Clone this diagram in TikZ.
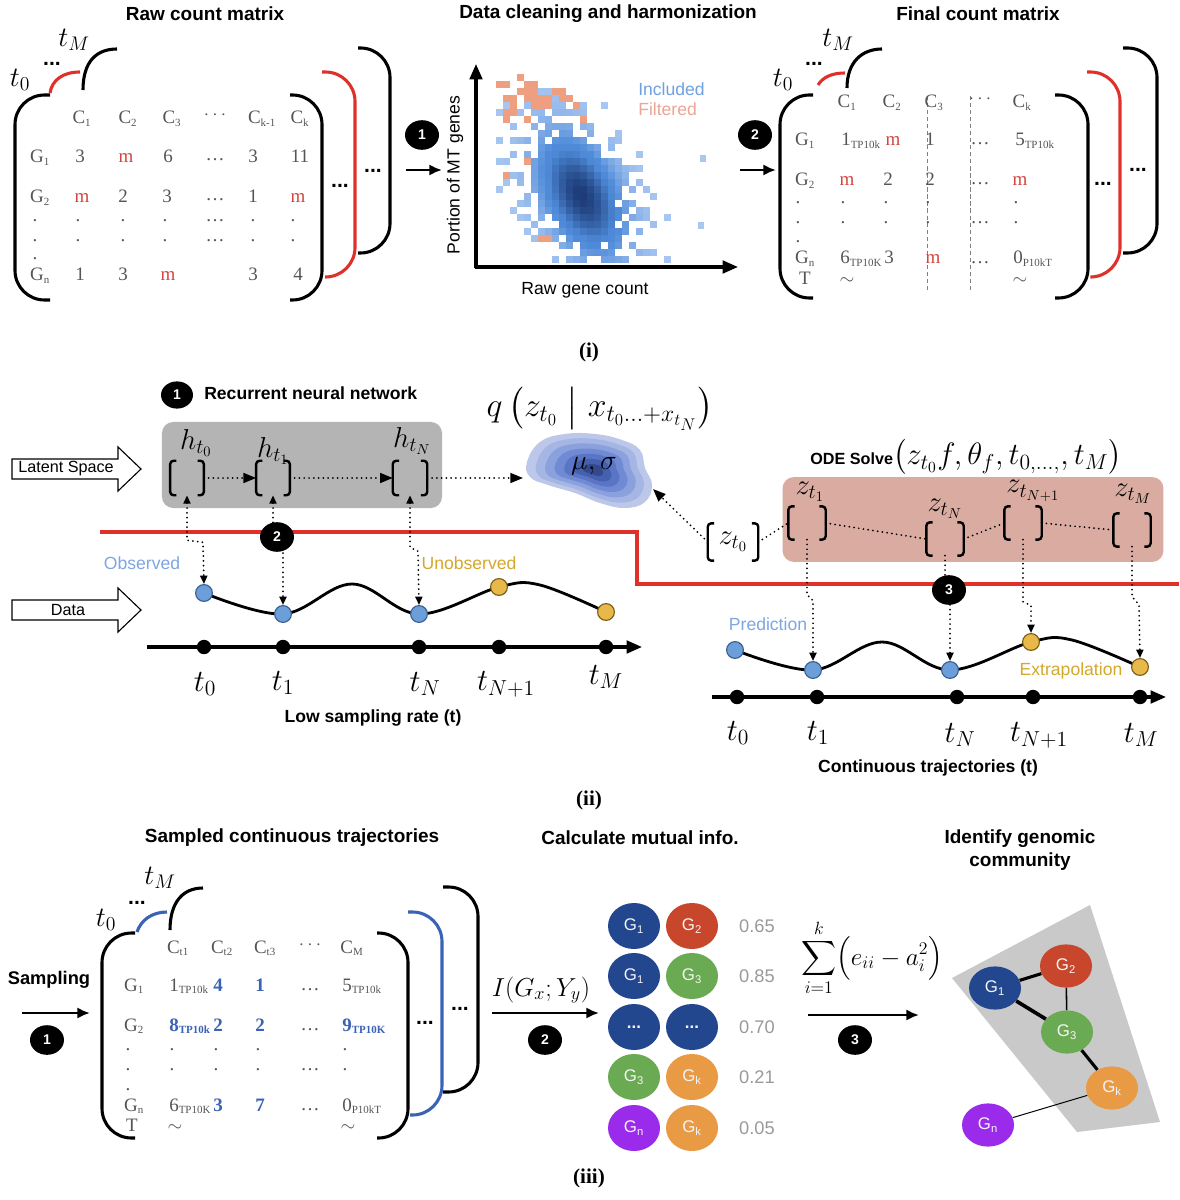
\RequirePackage{fix-cm}
\documentclass[tikz,border=0pt]{standalone}
\usepackage{exscale}
\usepackage{fontspec}
\setmainfont{Liberation Serif}
\setsansfont{Liberation Sans}
\usetikzlibrary{arrows.meta,shapes.geometric}
\definecolor{mredc}{HTML}{D2463F}
\definecolor{bred}{HTML}{E0302A}
\definecolor{mgray}{HTML}{555555}
\definecolor{mbluec}{HTML}{3A62B5}
\definecolor{incl}{HTML}{6FA0E0}
\definecolor{filt}{HTML}{EBA596}
\definecolor{lightb}{HTML}{A9C7F2}
\definecolor{midb}{HTML}{4E8AD8}
\definecolor{darkb}{HTML}{1D3C78}
\definecolor{orng}{HTML}{EE9F7F}
\definecolor{ptblue}{HTML}{6C9FDA}
\definecolor{ptblueo}{HTML}{3B5E90}
\definecolor{ptyel}{HTML}{E8B94A}
\definecolor{ptyelo}{HTML}{7A5C14}
\definecolor{obsblue}{HTML}{7EA6E2}
\definecolor{unobs}{HTML}{D4A82C}
\definecolor{rnnbox}{HTML}{B4B4B4}
\definecolor{odebox}{HTML}{D9ABA1}
\definecolor{gblue}{HTML}{22478F}
\definecolor{gred}{HTML}{C8462B}
\definecolor{ggreen}{HTML}{6AAA52}
\definecolor{gorange}{HTML}{E99A45}
\definecolor{gpurple}{HTML}{9A2BEA}
\definecolor{polyg}{HTML}{C9C9C9}
\definecolor{valgray}{HTML}{9A9A9A}
\definecolor{bl1}{HTML}{BCC7E9}
\definecolor{bl2}{HTML}{A5B6E5}
\definecolor{bl3}{HTML}{8BA1DE}
\definecolor{bl4}{HTML}{708BD4}
\definecolor{bl5}{HTML}{5A74C6}
\definecolor{bl6}{HTML}{4560AE}
\definecolor{bl7}{HTML}{34488C}
\newcommand\sbs[1]{\textsubscript{\fontsize{7.8}{9}\selectfont #1}}
\newcommand\drawbrk[1]{\draw[line width=1.7pt, rounded corners=2.5pt]
  ([xshift=4.5pt]#1.north west) -- (#1.north west) -- (#1.south west) -- ([xshift=4.5pt]#1.south west)
  ([xshift=-4.5pt]#1.north east) -- (#1.north east) -- (#1.south east) -- ([xshift=-4.5pt]#1.south east);}
\tikzset{
  titl/.style={font=\sffamily\bfseries\fontsize{13.5}{16.5}\selectfont, inner sep=0pt},
  lbl/.style={font=\sffamily\fontsize{11.5}{14}\selectfont, inner sep=0pt},
  secl/.style={font=\bfseries\fontsize{15}{18}\selectfont, inner sep=0pt},
  mtxt/.style={font=\fontsize{13.5}{16}\selectfont, text=mgray, inner sep=0pt, anchor=base},
  mtxtw/.style={mtxt, anchor=base west},
  mtr/.style={mtxt, text=mredc},
  mtb/.style={mtxt, text=mbluec, font=\bfseries\fontsize{13.5}{16}\selectfont},
  mtbw/.style={mtb, anchor=base west},
  brkl/.style={line width=2.2pt},
  rc/.style={rounded corners=21pt},
  bdots/.style={font=\sffamily\bfseries\fontsize{15}{18}\selectfont, inner sep=0pt},
  numc/.style={ellipse, fill=black, text=white, font=\sffamily\bfseries\fontsize{10}{12}\selectfont, minimum width=0.85cm, minimum height=0.74cm, inner sep=0pt},
  bigarr/.style={line width=2pt, -{Latex[length=9pt,width=8pt]}},
  dotl/.style={line width=1.4pt, dash pattern=on 0pt off 3.4pt, line cap=round},
  hhead/.style={-{Triangle[length=9pt,width=7pt]}},
  vhead/.style={-{Triangle[length=6pt,width=5pt]}},
  vhead2/.style={{Triangle[length=6pt,width=5pt]}-{Triangle[length=6pt,width=5pt]}},
  dpb/.style={circle, fill=ptblue, draw=ptblueo, line width=0.8pt, minimum size=0.42cm, inner sep=0pt},
  dpy/.style={circle, fill=ptyel, draw=ptyelo, line width=0.8pt, minimum size=0.42cm, inner sep=0pt},
  tdot/.style={circle, fill=black, minimum size=0.36cm, inner sep=0pt},
  tlab/.style={font=\fontsize{22}{26}\selectfont, inner sep=0pt},
  hlab/.style={font=\fontsize{20.5}{24}\selectfont, inner sep=0pt},
  fmath/.style={font=\fontsize{20}{24}\selectfont, inner sep=0pt},
  gcirc/.style={ellipse, minimum width=1.3cm, minimum height=1.15cm, inner sep=0pt, text=white!92!gray, font=\sffamily\fontsize{12}{14}\selectfont},
  ncirc/.style={ellipse, minimum width=1.3cm, minimum height=1.08cm, inner sep=0pt, text=white!92!gray, font=\sffamily\fontsize{12}{14}\selectfont},
  vlab/.style={font=\sffamily\fontsize{13}{15}\selectfont, text=valgray, inner sep=0pt},
  axisl/.style={line width=2.2pt, -{Triangle[length=11pt,width=9pt]}}
}
\begin{document}
\begin{tikzpicture}[x=0.025cm,y=-0.025cm]
\useasboundingbox (0,0) rectangle (1179,1200);
\fill[white] (0,0) rectangle (1179,1200);

%================ (i) ================
\node[titl] (ti1) at (205,14) {Raw count matrix};
\node[titl] (ti2) at (608,14) {Data cleaning and harmonization};
\node[titl] (ti3) at (978,14) {Final count matrix};

% raw count matrix
\node[tlab, font=\fontsize{20}{24}\selectfont] (rtm) at (74,40) {$t_M$};
\node[tlab, font=\fontsize{20}{24}\selectfont] (rt0) at (20,80) {$t_0$};
\node[bdots] (rdd) at (52,64) {...};
\draw[brkl] (117,49) .. controls (96,49) and (83,62) .. (83,90);
\draw[brkl, rc] (358,48) -- (390,48) -- (390,253) -- (358,253);
\draw[brkl, bred] (50,93) .. controls (52,80) and (63,72) .. (80,72);
\draw[brkl, bred, rc] (322,72) -- (355,72) -- (355,277) -- (325,277);
\draw[brkl, rc] (50,95) -- (15,95) -- (15,300) -- (50,300);
\draw[brkl, rc] (290,95) -- (322,95) -- (322,300) -- (290,300);
\node[bdots] (rd1) at (340,186) {...};
\node[bdots] (rd2) at (373,171) {...};
\foreach \x/\y/\t/\s [count=\k] in {
 82/124/{C\sbs{1}}/mtxt, 128/124/{C\sbs{2}}/mtxt, 172/124/{C\sbs{3}}/mtxt,
 215/120/{$\cdots$}/mtxt, 262/124/{C\sbs{k-1}}/mtxt, 300/124/{C\sbs{k}}/mtxt,
 40/163/{G\sbs{1}}/mtxt, 80/163/3/mtxt, 126/163/m/mtr, 168/163/6/mtxt, 215/161/{\dots}/mtxt, 253/163/3/mtxt, 300/163/11/mtxt,
 40/203/{G\sbs{2}}/mtxt, 82/203/m/mtr, 123/203/2/mtxt, 167/203/3/mtxt, 215/201/{\dots}/mtxt, 253/203/1/mtxt, 298/203/m/mtr,
 35/222/./mtxt, 78/222/./mtxt, 123/222/./mtxt, 165/222/./mtxt, 215/222/{\dots}/mtxt, 253/222/./mtxt, 293/222/./mtxt,
 35/242/./mtxt, 78/242/./mtxt, 123/242/./mtxt, 165/242/./mtxt, 215/242/{\dots}/mtxt, 253/242/./mtxt, 293/242/./mtxt,
 35/260/./mtxt,
 40/281/{G\sbs{n}}/mtxt, 80/281/1/mtxt, 123/281/3/mtxt, 168/281/m/mtr, 253/281/3/mtxt, 298/281/4/mtxt}
 {\node[\s] (ra\k) at (\x,\y) {\t};}

% arrow 1
\node[numc] (ci1) at (422,135) {1};
\coordinate (a1s) at (406,170); \coordinate (a1e) at (442,170);
\draw[bigarr] (a1s) -- (a1e);

% scatter heatmap
\pgfmathsetseed{7}
\foreach \i in {0,...,33}{
  \foreach \j in {0,...,26}{
    \pgfmathsetmacro\cx{489+7*\i}
    \pgfmathsetmacro\cy{74+7*\j}
    \pgfmathsetmacro\du{(\cx-578)*0.45+(\cy-192)*0.893}
    \pgfmathsetmacro\dv{(\cy-192)*0.45-(\cx-578)*0.893}
    \pgfmathsetmacro\dens{exp(-0.5*min((\du/60)^2+(\dv/34)^2,25))}
    \pgfmathsetmacro\denso{exp(-0.5*min(((\cx-527)/26)^2+((\cy-96)/15)^2,25))}
    \pgfmathsetmacro\ra{rnd}
    \pgfmathsetmacro\rb{rnd}
    \pgfmathtruncatemacro\isb{(\ra<1.5*\dens-0.1)?1:0}
    \pgfmathtruncatemacro\iso{((\rb<0.95*\denso-0.03)||((\dv>20)&&(\dv<60)&&(\du>-70)&&(\du<80)&&(\rb<0.13)))?1:0}
    \ifnum\isb=1
      \pgfmathsetmacro\pc{min(100,100*\dens^2)}
      \ifdim\pc pt<50pt
        \pgfmathsetmacro\pcb{min(100,2.4*\pc)}
        \fill[midb!\pcb!lightb] (\cx,\cy) rectangle ++(7,7);
      \else
        \pgfmathsetmacro\pcb{2*(\pc-50)}
        \fill[darkb!\pcb!midb] (\cx,\cy) rectangle ++(7,7);
      \fi
    \else
      \ifnum\iso=1
        \fill[orng] (\cx,\cy) rectangle ++(7,7);
      \fi
    \fi
  }
}
\fill[lightb] (700,155) rectangle ++(6,7);
\fill[lightb] (698,222) rectangle ++(6,7);
\coordinate (ax0) at (476,267); \coordinate (axy) at (476,64); \coordinate (axx) at (738,267);
\draw[axisl] ([yshift=-1pt]ax0) -- (axy);
\draw[axisl] ([xshift=-1pt]ax0) -- (axx);
\node[lbl, rotate=90, font=\sffamily\fontsize{12.5}{15}\selectfont] (ylab) at (455,175) {Portion of MT genes};
\node[lbl, font=\sffamily\fontsize{12.5}{15}\selectfont] (xlab) at (585,290) {Raw gene count};
\node[lbl, text=incl, font=\sffamily\fontsize{12.5}{15}\selectfont, anchor=west] (inc) at (638,89) {Included};
\node[lbl, text=filt, font=\sffamily\fontsize{12.5}{15}\selectfont, anchor=west] (fil) at (638,109) {Filtered};

% arrow 2
\node[numc] (ci2) at (755,135) {2};
\coordinate (a2s) at (740,170); \coordinate (a2e) at (776,170);
\draw[bigarr] (a2s) -- (a2e);

% final count matrix
\node[tlab, font=\fontsize{20}{24}\selectfont] (ftm) at (838,40) {$t_M$};
\node[tlab, font=\fontsize{20}{24}\selectfont] (ft0) at (783,80) {$t_0$};
\node[bdots] (fdd) at (814,64) {...};
\draw[brkl] (882,49) .. controls (862,49) and (847,62) .. (847,88);
\draw[brkl, rc] (1123,48) -- (1157,48) -- (1157,253) -- (1123,253);
\draw[brkl, bred] (818,85) .. controls (823,77) and (832,73) .. (845,73);
\draw[brkl, bred, rc] (1087,72) -- (1120,72) -- (1120,277) -- (1092,277);
\draw[brkl, rc] (813,95) -- (780,95) -- (780,298) -- (813,298);
\draw[brkl, rc] (1055,95) -- (1088,95) -- (1088,298) -- (1055,298);
\draw[gray, densely dashed, line width=0.6pt] (927,96) -- (927,292);
\draw[gray, densely dashed, line width=0.6pt] (970,96) -- (970,292);
\node[bdots] (fd1) at (1103,184) {...};
\node[bdots] (fd2) at (1138,170) {...};
\foreach \x/\y/\t/\s [count=\k] in {
 847/108/{C\sbs{1}}/mtxt, 892/108/{C\sbs{2}}/mtxt, 934/108/{C\sbs{3}}/mtxt,
 980/104/{$\cdots$}/mtxt, 1022/108/{C\sbs{k}}/mtxt,
 805/146/{G\sbs{1}}/mtxt, 841/146/{1\sbs{TP10k}}/mtxtw, 893/146/m/mtr, 930/146/1/mtxt, 980/145/{\dots}/mtxt, 1015/146/{5\sbs{TP10k}}/mtxtw,
 805/186/{G\sbs{2}}/mtxt, 847/186/m/mtr, 888/186/2/mtxt, 930/186/2/mtxt, 980/185/{\dots}/mtxt, 1020/186/m/mtr,
 798/204/./mtxt, 843/204/./mtxt, 886/204/./mtxt, 928/204/./mtxt, 1016/204/./mtxt,
 798/224/./mtxt, 843/224/./mtxt, 886/224/./mtxt, 928/224/./mtxt, 980/224/{\dots}/mtxt, 1016/224/./mtxt,
 798/243/./mtxt,
 805/264/{G\sbs{n}}/mtxt, 840/264/{6\sbs{TP10K}}/mtxtw, 889/264/3/mtxt, 933/264/m/mtr, 980/264/{\dots}/mtxt, 1013/264/{0\sbs{P10kT}}/mtxtw,
 805/285/T/mtxt, 847/285/{$\sim$}/mtxt, 1020/285/{$\sim$}/mtxt}
 {\node[\s] (fa\k) at (\x,\y) {\t};}

\node[secl] (sec1) at (589,352) {(i)};

%================ (ii) ================
\node[fill=rnnbox, rounded corners=8pt, minimum width=7cm, minimum height=2.15cm, inner sep=0pt] (rnn) at (302,465) {};
\node[fill=odebox, rounded corners=8pt, minimum width=9.52cm, minimum height=2.12cm, inner sep=0pt] (odeb) at (973,519.5) {};
\draw[bred, line width=2.2pt] (100,532) -- (637,532) -- (637,584) -- (1179,584);

\node[numc, minimum width=0.8cm, minimum height=0.68cm] (ci3) at (177,395) {1};
\node[font=\sffamily\bfseries\fontsize{12.5}{15}\selectfont, anchor=west, inner sep=0pt] (rnnl) at (204,393) {Recurrent neural network};

% latent / data block arrows
\draw[line width=0.8pt] (12,459) -- (118,459) -- (118,447) -- (141,469) -- (118,491) -- (118,479) -- (12,479) -- cycle;
\node[lbl] (lsp) at (66,469) {Latent Space};
\draw[line width=0.8pt] (12,600) -- (118,600) -- (118,588) -- (141,610) -- (118,632) -- (118,620) -- (12,620) -- cycle;
\node[lbl] (dat) at (68,610) {Data};

% blob
\foreach \s/\c in {1/bl1, 0.86/bl2, 0.72/bl3, 0.58/bl4, 0.44/bl5, 0.3/bl6, 0.16/bl7}{
  \fill[\c, shift={(594,470)}, scale=\s, shift={(-594,-470)}]
   plot[smooth cycle, tension=0.7] coordinates {(527,462) (540,442) (565,434) (595,434) (622,440) (640,450) (645,468) (652,485) (645,502) (625,508) (600,503) (575,493) (548,485) (530,477)};
}
\node[fmath] (mus) at (594,466) {$\mu,\sigma$};
\node[fmath, font=\fontsize{24}{28}\selectfont] (qf) at (600,409) {$q\,\bigl(z_{t_0}\;\big|\;x_{t_0\ldots+x_{t_N}}\bigr)$};
\coordinate (blobL) at (523,478);
\coordinate (blobR) at (653,489);

% RNN brackets
\node[inner sep=0pt, minimum width=0.83cm, minimum height=0.85cm] (h0) at (187,478) {};
\node[inner sep=0pt, minimum width=0.83cm, minimum height=0.85cm] (h1) at (273,478) {};
\node[inner sep=0pt, minimum width=0.85cm, minimum height=0.85cm] (hN) at (410,478) {};
\drawbrk{h0}\drawbrk{h1}\drawbrk{hN}
\node[hlab] (lh0) at (196,443) {$h_{t_0}$};
\node[hlab] (lh1) at (273,451) {$h_{t_1}$};
\node[hlab] (lhN) at (412,441) {$h_{t_N}$};
\draw[dotl, hhead] (h0.east) -- (h1.west);
\draw[dotl, hhead] (h1.east) -- (hN.west);
\draw[dotl, hhead] (hN.east) -- (blobL);

% left data
\draw[line width=2pt] plot[smooth, tension=0.6] coordinates {(204,593) (283,614) (352,584) (419,614) (499,587) (540,585) (606,612)};
\node[dpb] (d0) at (204,593) {};
\node[dpb] (d1) at (283,614) {};
\node[dpb] (dN) at (419,614) {};
\node[dpy] (dN1) at (499,587) {};
\node[dpy] (dM) at (606,612) {};
\draw[dotl, vhead2] (h0.south) -- ++(0,45) -- ++(16,2) -- (d0.north);
\draw[dotl, vhead2] (h1.south) -- ++(0,42) -- ++(10,3) -- (d1.north);
\draw[dotl, vhead2] (hN.south) -- ++(0,52) -- ++(8,4) -- (dN.north);
\node[lbl, text=obsblue, font=\sffamily\fontsize{12.5}{15}\selectfont] (obs) at (142,563) {Observed};
\node[lbl, text=unobs, font=\sffamily\fontsize{12.5}{15}\selectfont] (uno) at (469,563) {Unobserved};
\node[numc] (ci4) at (277,537) {2};

% left time axis
\coordinate (la0) at (147,647); \coordinate (la1) at (642,647);
\draw[axisl] (la0) -- (la1);
\foreach \x [count=\k] in {204,283,419,499,606}{\node[tdot] (lt\k) at (\x,647) {};}
\node[tlab] (llt0) at (205,684) {$t_0$};
\node[tlab] (llt1) at (283,683) {$t_1$};
\node[tlab] (lltN) at (425,684) {$t_N$};
\node[tlab] (lltN1) at (506,684) {$t_{N+1}$};
\node[tlab] (lltM) at (606,677) {$t_M$};
\node[font=\sffamily\bfseries\fontsize{12.5}{15}\selectfont, inner sep=0pt] (lsr) at (373,718) {Low sampling rate (t)};

% ODE part
\node[fmath, font=\fontsize{22}{26}\selectfont] (ode) at (966,457) {{\sffamily\bfseries\fontsize{11.5}{14}\selectfont ODE Solve}$\bigl(z_{t_0}f,\theta_f,t_{0,\ldots,},t_M\bigr)$};
\node[inner sep=0pt, minimum width=0.92cm, minimum height=0.82cm] (z1) at (807,523) {};
\node[inner sep=0pt, minimum width=0.92cm, minimum height=0.82cm] (zN) at (945,539) {};
\node[inner sep=0pt, minimum width=0.92cm, minimum height=0.82cm] (zN1) at (1023,523) {};
\node[inner sep=0pt, minimum width=0.92cm, minimum height=0.82cm] (zM) at (1132,530) {};
\node[hlab, minimum width=1.25cm, minimum height=0.92cm] (z0) at (733,542) {$z_{t_0}$};
\drawbrk{z1}\drawbrk{zN}\drawbrk{zN1}\drawbrk{zM}\drawbrk{z0}
\node[hlab] (lz1) at (810,492) {$z_{t_1}$};
\node[hlab] (lzN) at (945,509) {$z_{t_N}$};
\node[hlab] (lzN1) at (1033,491) {$z_{t_{N+1}}$};
\node[hlab] (lzM) at (1133,494) {$z_{t_M}$};
\draw[dotl] (z0.east) -- (z1.west);
\draw[dotl] (z1.east) -- (zN.west);
\draw[dotl] (zN.east) -- (zN1.west);
\draw[dotl] (zN1.east) -- (zM.west);
\draw[dotl, hhead] (z0.west) -- (blobR);

\draw[line width=2pt] plot[smooth, tension=0.6] coordinates {(735,650) (813,670) (882,642) (950,670) (1031,642) (1072,640) (1140,667)};
\node[dpb] (p0) at (735,650) {};
\node[dpb] (p1) at (813,670) {};
\node[dpb] (pN) at (950,670) {};
\node[dpy] (pN1) at (1031,642) {};
\node[dpy] (pM) at (1140,667) {};
\draw[dotl, vhead] (z1.south) -- ++(0,55) -- ++(6,6) -- (p1.north);
\draw[dotl, vhead] (zN.south) -- ++(0,37) -- ++(5,2) -- (pN.north);
\draw[dotl, vhead] (zN1.south) -- ++(0,62) -- ++(8,4) -- (pN1.north);
\draw[dotl, vhead] (zM.south) -- ++(0,50) -- ++(7,8) -- (pM.north);
\node[numc] (ci5) at (949,590) {3};
\node[lbl, text=obsblue, font=\sffamily\fontsize{12.5}{15}\selectfont] (pred) at (768,624) {Prediction};
\node[lbl, text=unobs, font=\sffamily\fontsize{12.5}{15}\selectfont] (extr) at (1071,671) {Extrapolation};

\coordinate (ra0) at (712,697); \coordinate (ra1) at (1166,697);
\draw[axisl] (ra0) -- (ra1);
\foreach \x [count=\k] in {737,817,957,1033,1140}{\node[tdot] (rt\k) at (\x,697) {};}
\node[tlab] (rlt0) at (738,733) {$t_0$};
\node[tlab] (rlt1) at (818,733) {$t_1$};
\node[tlab] (rltN) at (960,735) {$t_N$};
\node[tlab] (rltN1) at (1039,735) {$t_{N+1}$};
\node[tlab] (rltM) at (1141,735) {$t_M$};
\node[font=\sffamily\bfseries\fontsize{12.5}{15}\selectfont, inner sep=0pt] (ctr) at (928,768) {Continuous trajectories (t)};

\node[secl] (sec2) at (589,800) {(ii)};

%================ (iii) ================
\node[titl] (ti4) at (292,838) {Sampled continuous trajectories};
\node[titl] (ti5) at (640,838) {Calculate mutual info.};
\node[titl, align=center] (ti6) at (1020,850) {Identify genomic\\community};

\node[font=\sffamily\bfseries\fontsize{13}{15}\selectfont, inner sep=0pt] (smp) at (49,980) {Sampling};
\coordinate (s1s) at (22,1013); \coordinate (s1e) at (90,1013);
\draw[bigarr] (s1s) -- (s1e);
\node[numc] (ci6) at (47,1040) {1};

\node[tlab, font=\fontsize{20}{24}\selectfont] (stm) at (160,878) {$t_M$};
\node[tlab, font=\fontsize{20}{24}\selectfont] (st0) at (106,920) {$t_0$};
\node[bdots] (sdd) at (137,903) {...};
\draw[brkl] (203,888) .. controls (183,888) and (170,902) .. (170,930);
\draw[brkl, rc] (443,887) -- (478,887) -- (478,1092) -- (443,1092);
\draw[brkl, mbluec] (137,932) .. controls (141,920) and (152,912) .. (167,912);
\draw[brkl, mbluec, rc] (408,912) -- (442,912) -- (442,1115) -- (410,1115);
\draw[brkl, rc] (135,933) -- (102,933) -- (102,1138) -- (135,1138);
\draw[brkl, rc] (377,933) -- (408,933) -- (408,1138) -- (377,1138);
\node[bdots] (sd1) at (425,1023) {...};
\node[bdots] (sd2) at (460,1009) {...};
\foreach \x/\y/\t/\s [count=\k] in {
 178/953/{C\sbs{t1}}/mtxt, 222/953/{C\sbs{t2}}/mtxt, 265/953/{C\sbs{t3}}/mtxt,
 310/949/{$\cdots$}/mtxt, 352/953/{C\sbs{M}}/mtxt,
 134/991/{G\sbs{1}}/mtxt, 169/991/{1\sbs{TP10k}}/mtxtw, 218/991/4/mtb, 260/991/1/mtb, 310/990/{\dots}/mtxt, 342/991/{5\sbs{TP10k}}/mtxtw,
 134/1031/{G\sbs{2}}/mtxt, 169/1031/{8\sbs{TP10k}}/mtbw, 218/1031/2/mtb, 260/1031/2/mtb, 310/1030/{\dots}/mtxt, 342/1031/{9\sbs{TP10K}}/mtbw,
 128/1050/./mtxt, 172/1050/./mtxt, 216/1050/./mtxt, 258/1050/./mtxt, 345/1050/./mtxt,
 128/1070/./mtxt, 172/1070/./mtxt, 216/1070/./mtxt, 258/1070/./mtxt, 310/1070/{\dots}/mtxt, 345/1070/./mtxt,
 128/1090/./mtxt,
 134/1111/{G\sbs{n}}/mtxt, 169/1111/{6\sbs{TP10K}}/mtxtw, 218/1111/3/mtb, 260/1111/7/mtb, 310/1110/{\dots}/mtxt, 342/1111/{0\sbs{P10kT}}/mtxtw,
 132/1131/T/mtxt, 175/1131/{$\sim$}/mtxt, 348/1131/{$\sim$}/mtxt}
 {\node[\s] (sa\k) at (\x,\y) {\t};}

% mutual information
\node[fmath, font=\fontsize{18.5}{22}\selectfont] (mi) at (541,990) {$I(G_x;Y_y)$};
\coordinate (m1s) at (492,1013); \coordinate (m1e) at (599,1013);
\draw[bigarr] (m1s) -- (m1e);
\node[numc] (ci7) at (545,1040) {2};

\node[gcirc, fill=gblue] (g11) at (634,926) {G\textsubscript{1}};
\node[gcirc, fill=gred] (g12) at (692,926) {G\textsubscript{2}};
\node[gcirc, fill=gblue] (g21) at (634,976) {G\textsubscript{1}};
\node[gcirc, fill=ggreen] (g22) at (692,976) {G\textsubscript{3}};
\node[gcirc, fill=gblue] (g31) at (634,1027) {\textbf{...}};
\node[gcirc, fill=gblue] (g32) at (692,1027) {\textbf{...}};
\node[gcirc, fill=ggreen] (g41) at (634,1077) {G\textsubscript{3}};
\node[gcirc, fill=gorange] (g42) at (692,1077) {G\textsubscript{k}};
\node[gcirc, fill=gpurple] (g51) at (634,1128) {G\textsubscript{n}};
\node[gcirc, fill=gorange] (g52) at (692,1128) {G\textsubscript{k}};
\node[vlab] (v1) at (757,926) {0.65};
\node[vlab] (v2) at (757,976) {0.85};
\node[vlab] (v3) at (757,1027) {0.70};
\node[vlab] (v4) at (757,1077) {0.21};
\node[vlab] (v5) at (757,1128) {0.05};

\node[fmath, font=\fontsize{18}{22}\selectfont] (sumf) at (872,958) {$\displaystyle\sum_{i=1}^{k}\Bigl(e_{ii}-a_i^2\Bigr)$};
\coordinate (n1s) at (808,1015); \coordinate (n1e) at (919,1015);
\draw[bigarr] (n1s) -- (n1e);
\node[numc] (ci8) at (855,1040) {3};

\fill[polyg] (952,978) -- (1090,905) -- (1160,1122) -- (1077,1132) -- cycle;
\node[ncirc, fill=gblue] (n1) at (995,988) {G\textsubscript{1}};
\node[ncirc, fill=gred] (n2) at (1066,966) {G\textsubscript{2}};
\node[ncirc, fill=ggreen] (n3) at (1067,1032) {G\textsubscript{3}};
\node[ncirc, fill=gorange] (nk) at (1112,1088) {G\textsubscript{k}};
\node[ncirc, fill=gpurple] (nn) at (988,1125) {G\textsubscript{n}};
\draw[line width=2.2pt] (n1) -- (n2);
\draw[line width=1.1pt] (n2) -- (n3);
\draw[line width=2.6pt] (n1) -- (n3);
\draw[line width=2.2pt] (n3) -- (nk);
\draw[line width=0.7pt] (nk) -- (nn);

\node[secl] (sec3) at (589,1178) {(iii)};
\end{tikzpicture}
\end{document}
